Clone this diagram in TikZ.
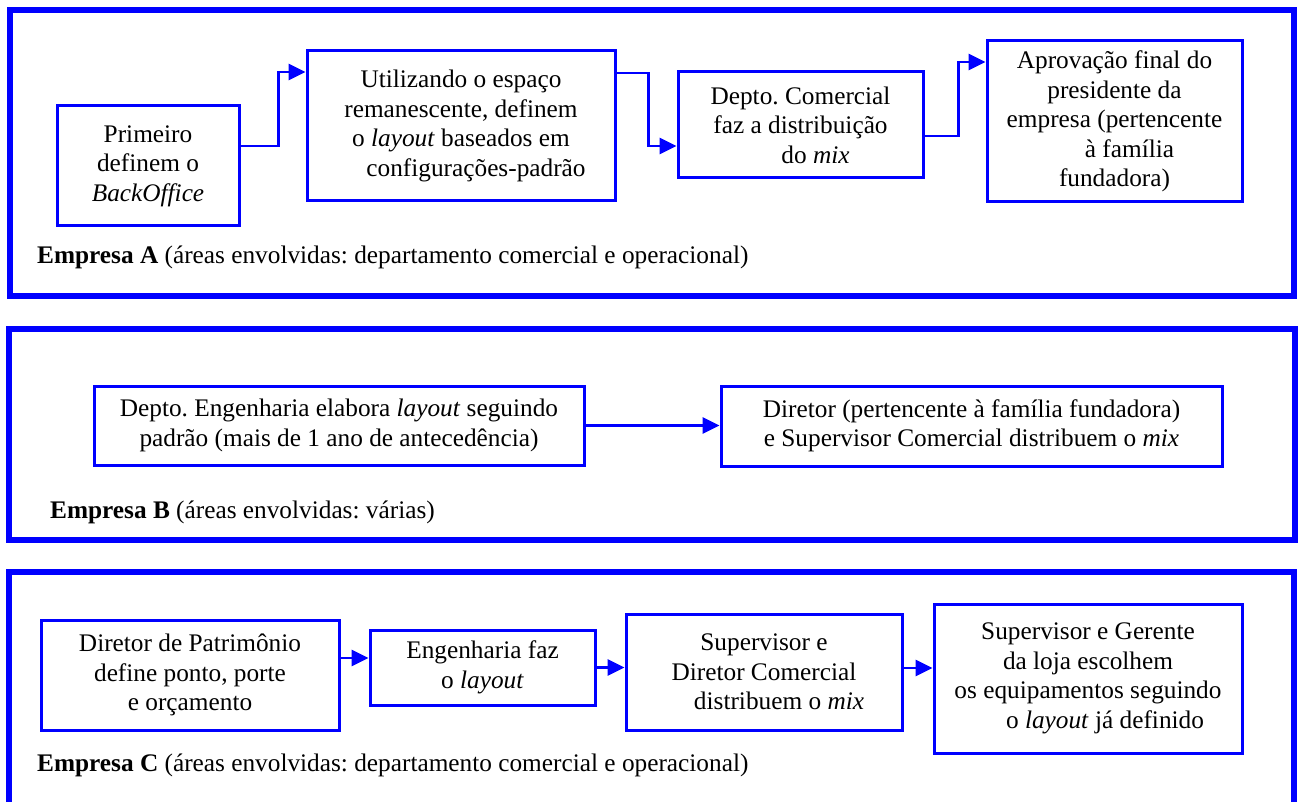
\documentclass[tikz,border=0pt]{standalone}
\usepackage{fontspec}
\setmainfont{Liberation Serif}
\frenchspacing
\usetikzlibrary{arrows.meta,calc}
\begin{document}
\begin{tikzpicture}[x=1pt,y=-1pt,
  panel/.style={draw=blue,line width=5.5pt},
  stepbox/.style={draw=blue,line width=3pt,align=center,inner sep=0pt,
    font=\fontsize{25.3}{29.5}\selectfont},
  conn/.style={draw=blue,line width=2.8pt,-{Triangle[length=17pt,width=16pt]}},
  caption/.style={anchor=west,inner sep=0pt,font=\fontsize{25.3}{29.5}\selectfont}]
\useasboundingbox (0,0) rectangle (1299,802);
\fill[white] (0,0) rectangle (1299,802);
% panels
\draw[panel] (10,10) rectangle (1294,296);
\draw[panel] (9,329) rectangle (1295,540);
\draw[panel] (9,572) rectangle (1294,812);
% Empresa A
\node[stepbox,minimum width=182pt,minimum height=120pt] (A1) at (148,166)
  {Primeiro\\definem o\\\textit{BackOffice}};
\node[stepbox,minimum width=308pt,minimum height=150pt] (A2) at (461,126)
  {Utilizando o espaço\\remanescente, definem\\o \textit{layout} baseados em\\\hspace*{30pt}configurações-padrão};
\node[stepbox,minimum width=245pt,minimum height=106pt] (A3) at (800.5,125)
  {Depto. Comercial\\faz a distribuição\\\hspace*{30pt}do \textit{mix}};
\node[stepbox,minimum width=255pt,minimum height=161pt] (A4) at (1114.5,121.5)
  {Aprovação final do\\presidente da\\empresa (pertencente\\\hspace*{30pt}à família\\fundadora)};
\node[caption] (capA) at (37,257) {\textbf{Empresa A} (áreas envolvidas: departamento comercial e operacional)};
\draw[conn] ([yshift=20pt]A1.east) -- ++(38,0) |- ([yshift=54pt]A2.west);
\draw[conn] ([yshift=53pt]A2.east) -- ++(32,0) |- ([yshift=-21pt]A3.west);
\draw[conn] ([yshift=-11pt]A3.east) -- ++(34,0) |- ([yshift=59.5pt]A4.west);
% Empresa B
\node[stepbox,minimum width=490pt,minimum height=79pt] (B1) at (339,425.5)
  {Depto. Engenharia elabora \textit{layout} seguindo\\padrão (mais de 1 ano de antecedência)};
\node[stepbox,minimum width=501pt,minimum height=80pt] (B2) at (971.5,426)
  {Diretor (pertencente à família fundadora)\\e Supervisor Comercial distribuem o \textit{mix}};
\node[caption] (capB) at (50,512) {\textbf{Empresa B} (áreas envolvidas: várias)};
\draw[conn] (B1.east) -- (B1.east -| B2.west);
% Empresa C
\node[stepbox,minimum width=298pt,minimum height=110pt] (C1) at (190,675)
  {Diretor de Patrimônio\\define ponto, porte\\e orçamento};
\node[stepbox,minimum width=225pt,minimum height=75pt] (C2) at (482.5,667.5)
  {Engenharia faz\\o \textit{layout}};
\node[stepbox,minimum width=276pt,minimum height=116pt] (C3) at (764,672)
  {Supervisor e\\Diretor Comercial\\\hspace*{30pt}distribuem o \textit{mix}};
\node[stepbox,minimum width=308pt,minimum height=149pt] (C4) at (1088,678.5)
  {Supervisor e Gerente\\da loja escolhem\\os equipamentos seguindo\\\hspace*{34pt}o \textit{layout} já definido};
\node[caption] (capC) at (37,765) {\textbf{Empresa C} (áreas envolvidas: departamento comercial e operacional)};
\draw[conn] ([yshift=17pt]C1.east) -- ([yshift=17pt]C1.east -| C2.west);
\draw[conn] (C2.east) -- (C2.east -| C3.west);
\draw[conn] ([yshift=4pt]C3.east) -- ([yshift=4pt]C3.east -| C4.west);
\end{tikzpicture}
\end{document}
